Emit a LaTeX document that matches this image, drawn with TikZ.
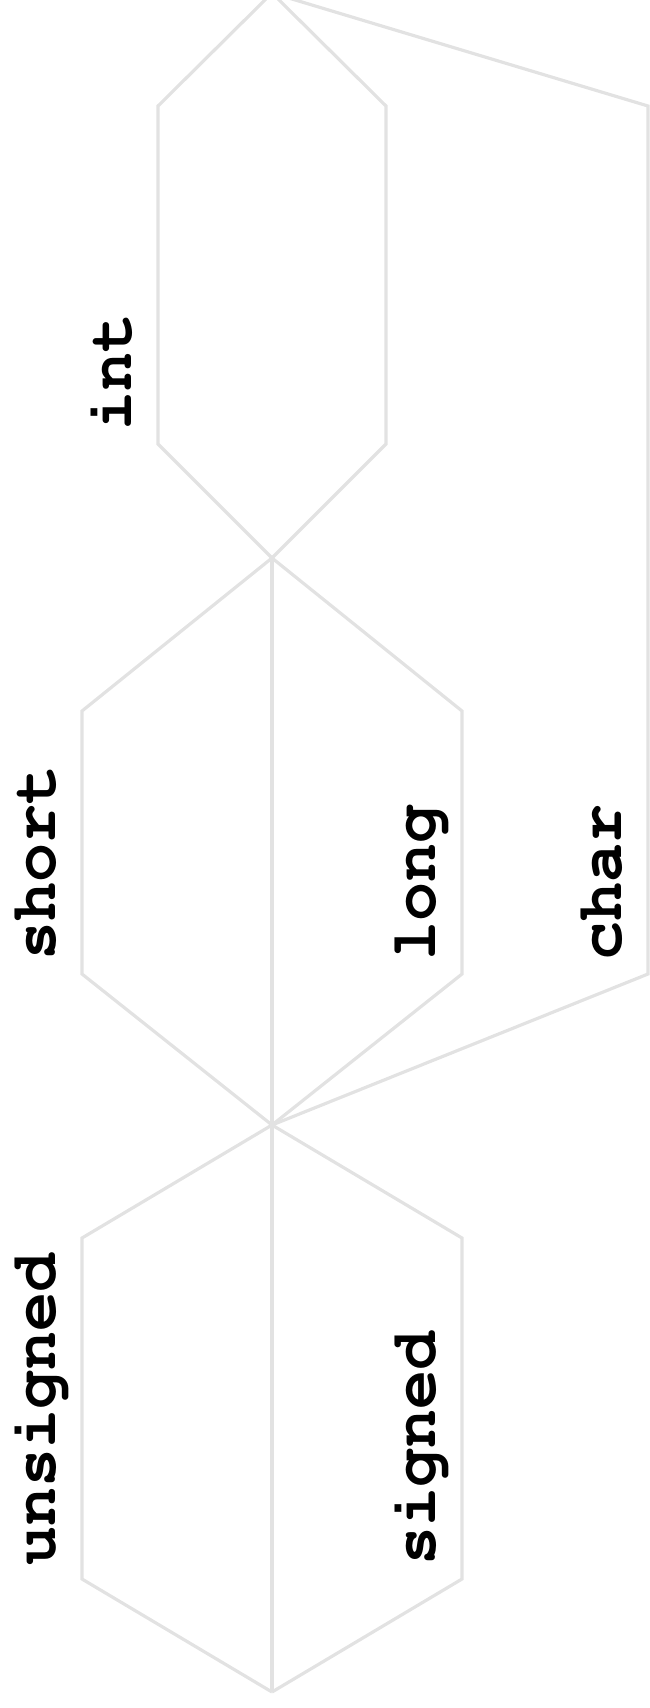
\documentclass[tikz,border=0pt]{standalone}
\usepackage[T1]{fontenc}
\usepackage{xcolor}
\usepackage{tikz}
\usetikzlibrary{
	calc,
	positioning
}
\definecolor{rail}{HTML}{E2E2E2}
\newcommand{\kwfont}{\fontencoding{T1}\fontfamily{pcr}\fontseries{b}\fontsize{65}{65}\selectfont}

\begin{document}
\begin{tikzpicture}[x=1pt, y=-1pt,
	track/.style={draw=rail, line width=3.2pt, line join=miter},
	kw/.style={rotate=90, anchor=base west, inner sep=0pt, font=\kwfont}]
	\useasboundingbox (0,0) rectangle (650,1708);
	% junctions
	\coordinate (top) at (272,-7);
	\coordinate (J1) at (272,558);
	\coordinate (J2) at (272,1125);
	\coordinate (bot) at (272,1692);
	% corners of the branches
	\coordinate (intA) at (158,106);
	\coordinate (intB) at (158,444);
	\coordinate (skipA) at (386,106);
	\coordinate (skipB) at (386,444);
	\coordinate (charA) at (648,106);
	\coordinate (charB) at (648,974);
	\coordinate (shortA) at (82,711);
	\coordinate (shortB) at (82,974);
	\coordinate (longA) at (462,711);
	\coordinate (longB) at (462,974);
	\coordinate (unsA) at (82,1238);
	\coordinate (unsB) at (82,1579);
	\coordinate (sgnA) at (462,1238);
	\coordinate (sgnB) at (462,1579);
	% tracks
	\draw[track] (top) -- (intA) -- (intB) -- (J1);
	\draw[track] (top) -- (skipA) -- (skipB) -- (J1);
	\draw[track] (top) -- (charA) -- (charB) -- (J2);
	\draw[track] (J1) -- (shortA) -- (shortB) -- (J2);
	\draw[track] (J1) -- (longA) -- (longB) -- (J2);
	\draw[track] (J1) -- (J2);
	\draw[track] (J2) -- (unsA) -- (unsB) -- (bot);
	\draw[track] (J2) -- (sgnA) -- (sgnB) -- (bot);
	\draw[track] (J2) -- (bot);
	% keywords
	\foreach \c/\t in {intB/int, shortB/short, longB/long, charB/char, unsB/unsigned, sgnB/signed}
		\node[kw] (\t) at ($(\c)+(-27,-13)$) {\t};
\end{tikzpicture}
\end{document}
